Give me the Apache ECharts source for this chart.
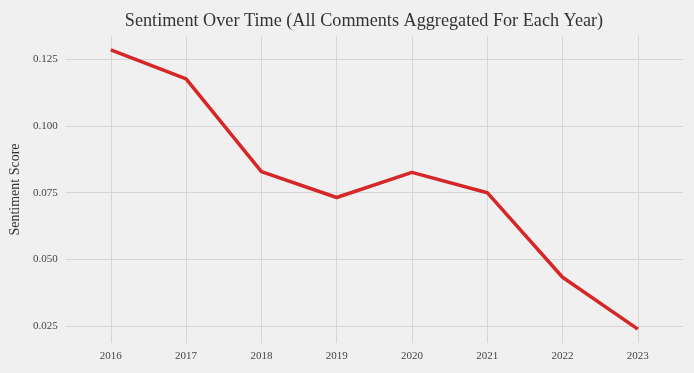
<!DOCTYPE html>
<html><head><meta charset="utf-8">
<script src="https://cdn.jsdelivr.net/npm/echarts@6/dist/echarts.min.js"></script>
<style>html,body{margin:0;padding:0;background:#f0f0f0}#c{width:694px;height:373px}</style>
</head><body><div id="c"></div>
<script>
const years = [2016, 2017, 2018, 2019, 2020, 2021, 2022, 2023];
const sentiment = [0.1284, 0.1176, 0.0829, 0.0732, 0.0826, 0.0750, 0.0434, 0.0240];
const yTicks = [0.025, 0.050, 0.075, 0.100, 0.125];
const titleText = 'Sentiment Over Time (All Comments Aggregated For Each Year)';
const yLabel = 'Sentiment Score';

const font = '"Liberation Serif", "Times New Roman", serif';
const chart = echarts.init(document.getElementById('c'), null, {renderer: 'canvas'});
chart.setOption({
  backgroundColor: '#f0f0f0',
  animation: false,
  title: {
    text: titleText, left: 359, top: 7, textAlign: 'center',
    textStyle: {fontFamily: font, fontSize: 18.2, fontWeight: 'normal', color: '#333'}
  },
  grid: {left: 65, right: 11, top: 36, bottom: 30},
  xAxis: {
    type: 'value', min: 2015.4, max: 2023.6,
    axisLine: {show: false},
    axisTick: {show: false, customValues: years},
    axisLabel: {fontFamily: font, fontSize: 11, color: '#444', margin: 8,
      customValues: years, formatter: v => String(v)},
    splitLine: {show: true, lineStyle: {color: '#d6d6d6', width: 1}}
  },
  yAxis: {
    type: 'value', min: 0.0188, max: 0.1336,
    name: yLabel, nameLocation: 'middle', nameGap: 43,
    nameTextStyle: {fontFamily: font, fontSize: 14, color: '#333'},
    axisLine: {show: false},
    axisTick: {show: false, customValues: yTicks},
    axisLabel: {fontFamily: font, fontSize: 11, color: '#444', margin: 8,
      customValues: yTicks, formatter: v => v.toFixed(3)},
    splitLine: {show: true, lineStyle: {color: '#d6d6d6', width: 1}}
  },
  series: [{
    type: 'line',
    data: years.map((y, i) => [y, sentiment[i]]),
    showSymbol: false, symbol: 'none',
    lineStyle: {color: '#d62728', width: 3.5},
    itemStyle: {color: '#d62728'}
  }]
});
</script></body></html>
